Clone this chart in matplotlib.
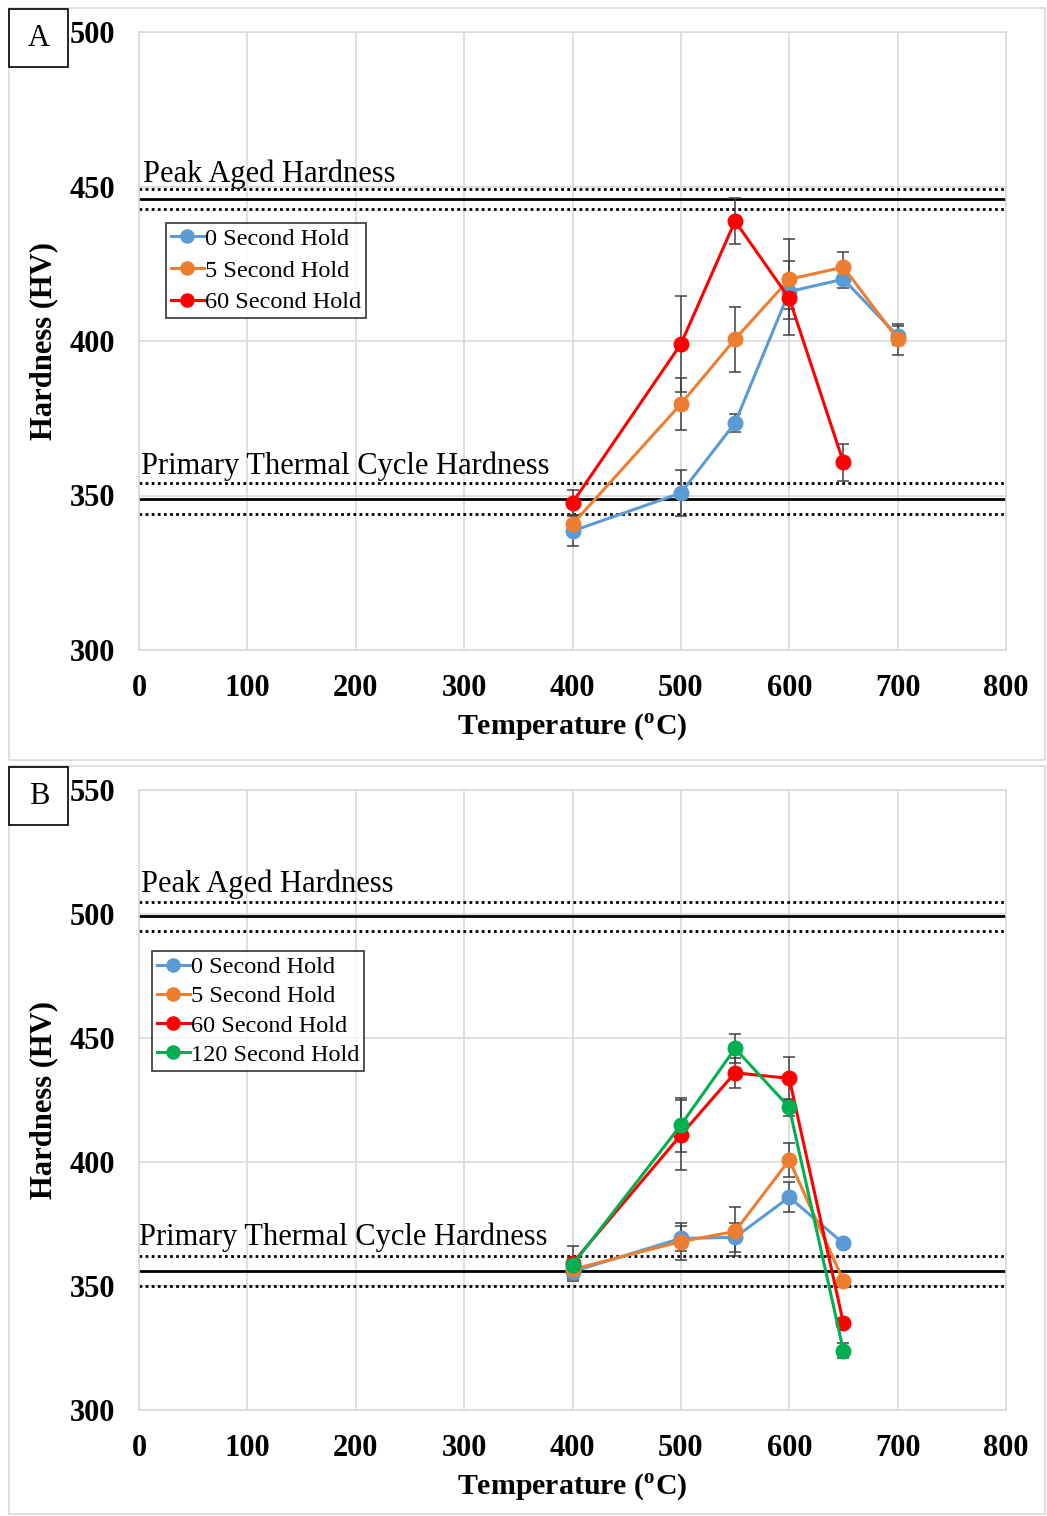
import numpy as np
import matplotlib.pyplot as plt
from matplotlib.patches import Rectangle

plt.rcParams["font.family"] = ["Liberation Serif", "DejaVu Serif"]
plt.rcParams["mathtext.fontset"] = "custom"
plt.rcParams["mathtext.rm"] = "Liberation Serif"
plt.rcParams["mathtext.bf"] = "Liberation Serif:bold"

COLORS = {
    "0 Second Hold":   "#5B9BD5",
    "5 Second Hold":   "#ED7D31",
    "60 Second Hold":  "#FF0000",
    "120 Second Hold": "#00B050",
}

# ---- panel A data ----
a_temp = {
    "0 Second Hold":  [400, 500, 550, 600, 650, 700],
    "5 Second Hold":  [400, 500, 550, 600, 650, 700],
    "60 Second Hold": [400, 500, 550, 600, 650],
}
a_hv = {
    "0 Second Hold":  [338.5, 350.8, 373.5, 416.0, 420.0, 401.7],
    "5 Second Hold":  [340.7, 379.6, 400.6, 420.0, 423.9, 400.6],
    "60 Second Hold": [347.7, 399.0, 438.8, 413.8, 360.7],
}
a_err = {
    "0 Second Hold":  [5.0, 7.5, 3.0, 5.5, 3.0, 3.0],
    "5 Second Hold":  [3.0, 8.5, 10.5, 13.0, 5.0, 5.0],
    "60 Second Hold": [4.0, 15.5, 7.5, 12.0, 6.0],
}
a_peak, a_peak_sd = 446.0, 3.2
a_prim, a_prim_sd = 349.0, 5.0

# ---- panel B data ----
b_temp = [400, 500, 550, 600, 650]
b_hv = {
    "0 Second Hold":   [355.8, 369.2, 369.6, 385.8, 367.2],
    "5 Second Hold":   [356.7, 367.9, 372.0, 400.8, 352.1],
    "60 Second Hold":  [359.2, 410.9, 436.0, 433.7, 335.0],
    "120 Second Hold": [358.5, 414.9, 445.8, 422.0, 323.9],
}
b_err = {
    "0 Second Hold":   [3.0, 5.0, 6.0, 6.0, 0.5],
    "5 Second Hold":   [3.0, 7.5, 10.0, 7.0, 1.0],
    "60 Second Hold":  [7.0, 14.0, 6.0, 8.5, 2.0],
    "120 Second Hold": [3.0, 11.0, 6.0, 3.5, 3.0],
}
b_peak, b_peak_sd = 499.0, 6.0
b_prim, b_prim_sd = 356.0, 6.0

W, H = 1047, 1516
fig = plt.figure(figsize=(W / 100, H / 100), dpi=100)


def fy(py):
    return 1 - py / H


def draw_panel(rect, temps, hv, err, ylim, yticks, peak, peak_sd, prim, prim_sd,
               peak_txt, prim_txt, leg_anchor, leg_spacing):
    ax = fig.add_axes(rect)
    ax.set_xlim(0, 800)
    ax.set_ylim(*ylim)
    ax.set_xticks(range(0, 801, 100))
    ax.set_yticks(yticks)
    ax.grid(color="#d9d9d9", linewidth=1.2)
    ax.set_axisbelow(True)
    for sp in ax.spines.values():
        sp.set_edgecolor("#d9d9d9")
        sp.set_linewidth(1.2)
    ax.tick_params(length=0, labelsize=22, pad=17)
    for lab in ax.get_xticklabels() + ax.get_yticklabels():
        lab.set_fontweight("bold")

    # reference bands
    for c, sd in [(peak, peak_sd), (prim, prim_sd)]:
        ax.axhline(c, color="black", linewidth=2.0, zorder=2)
        ax.axhline(c + sd, color="black", linewidth=2.0, linestyle=(0, (1, 1.2)), zorder=2)
        ax.axhline(c - sd, color="black", linewidth=2.0, linestyle=(0, (1, 1.2)), zorder=2)
    ax.text(peak_txt[0], peak_txt[1], "Peak Aged Hardness", fontsize=22,
            va="baseline", ha="left")
    ax.text(prim_txt[0], prim_txt[1], "Primary Thermal Cycle Hardness", fontsize=22,
            va="baseline", ha="left")

    for name in hv:
        x = temps[name] if isinstance(temps, dict) else temps
        ax.errorbar(x, hv[name], yerr=err[name], fmt="none", ecolor="#404040",
                    elinewidth=1.1, capsize=4, capthick=1.1, zorder=3)
    for name in hv:
        x = temps[name] if isinstance(temps, dict) else temps
        ax.plot(x, hv[name], color=COLORS[name], linewidth=2.2, marker="o",
                markersize=10.5, label=name, zorder=4)

    leg = ax.legend(loc="upper left", bbox_to_anchor=leg_anchor, borderaxespad=0,
                    fontsize=17.5, frameon=True, fancybox=False, handlelength=1.35,
                    handletextpad=0.05, labelspacing=leg_spacing, borderpad=0.2,
                    edgecolor="black", markerscale=0.9)
    leg.get_frame().set_linewidth(1.2)

    ax.set_xlabel("Temperature ($^{\\mathbf{o}}$C)", fontsize=21.5, fontweight="bold",
                  labelpad=6)
    ax.set_ylabel("Hardness (HV)", fontsize=22, fontweight="bold")
    ax.yaxis.set_label_coords(-0.0934, 0.5)
    return ax


left, right = 139 / W, 1006 / W
axA = draw_panel([left, fy(650), right - left, fy(32) - fy(650)],
                 a_temp, a_hv, a_err, (300, 500), range(300, 501, 50),
                 a_peak, a_peak_sd, a_prim, a_prim_sd,
                 (4, 451.4), (2, 357.0), (0.031, 0.691), 0.4)
axB = draw_panel([left, fy(1410), right - left, fy(790) - fy(1410)],
                 b_temp, b_hv, b_err, (300, 550), range(300, 551, 50),
                 b_peak, b_peak_sd, b_prim, b_prim_sd,
                 (2, 508.9), (0, 366.5), (0.015, 0.74), 0.3)

# outer panel borders and letter boxes
for (top, bot) in [(8, 760), (766, 1514)]:
    fig.patches.append(Rectangle((9 / W, fy(bot)), (1045 - 9) / W, (bot - top) / H,
                                 transform=fig.transFigure, fill=False,
                                 edgecolor="#d9d9d9", linewidth=1.2))
for letter, top in [("A", 9), ("B", 767)]:
    fig.patches.append(Rectangle((9 / W, fy(top + 58)), 59 / W, 58 / H,
                                 transform=fig.transFigure, facecolor="white",
                                 edgecolor="black", linewidth=1.2, zorder=5))
    fig.text(39 / W, fy(top + 29), letter, fontsize=22, ha="center",
             va="center", zorder=6)

fig.savefig("out.png", dpi=100)
